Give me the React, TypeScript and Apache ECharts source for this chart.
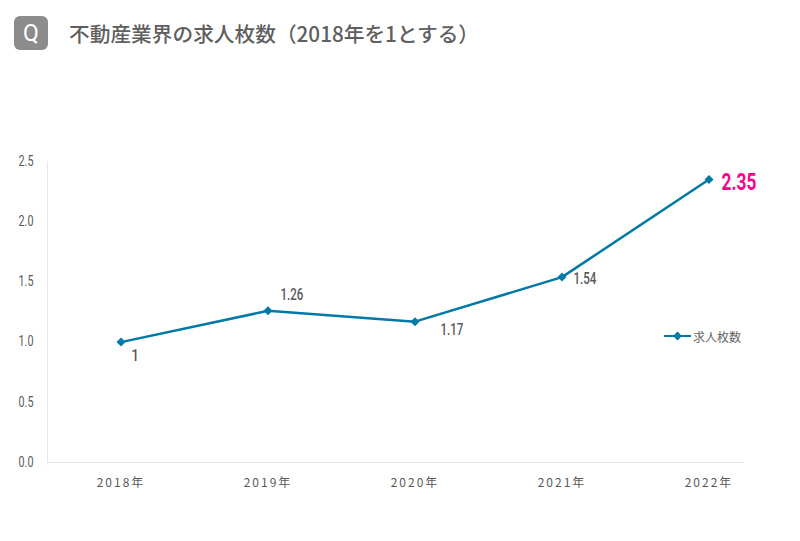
import React, { useEffect, useRef } from "react";
import * as echarts from "echarts";

const categories = ["2018年", "2019年", "2020年", "2021年", "2022年"];
const values = [1, 1.26, 1.17, 1.54, 2.35];
const yTicks = ["0.0", "0.5", "1.0", "1.5", "2.0", "2.5"];
const seriesName = "求人枚数";
const titleText = "不動産業界の求人枚数（2018年を1とする）";
const font = "'Noto Sans CJK JP', 'Noto Sans', sans-serif";
const numFont = "Roboto, sans-serif";
const blue = "#0079A8";
const gray = "#595959";
const labelOffsets: number[][] = [[14, 13], [24, -16], [37, 8], [23, 1], [30, 2]];

export default function App() {
  const ref = useRef<HTMLDivElement>(null);
  useEffect(() => {
    const chart = echarts.init(ref.current!, undefined, { renderer: "svg" });
    chart.setOption({
      animation: false,
      backgroundColor: "#fff",
      grid: { left: 47.5, right: 17.5, top: 161.5, bottom: 78.5, containLabel: false },
      xAxis: {
        type: "category",
        data: categories,
        axisLine: { show: false },
        axisTick: { show: false },
        axisLabel: { color: gray, fontFamily: font, fontSize: 12, margin: 13 },
      },
      yAxis: {
        type: "value",
        min: 0,
        max: 2.5,
        interval: 0.5,
        axisLine: { show: true, lineStyle: { color: "#E6E6E6", width: 1 } },
        axisTick: { show: false },
        splitLine: { show: false },
        axisLabel: {
          color: gray,
          fontFamily: numFont,
          fontSize: 15,
          margin: 14,
          formatter: (_v: number, i: number) => yTicks[i],
        },
      },
      legend: {
        left: 658,
        top: 325,
        itemWidth: 27,
        itemHeight: 11,
        itemGap: 0,
        data: [seriesName],
        textStyle: { color: "#666666", fontFamily: font, fontSize: 12, padding: [0, 0, 0, -3] },
      },
      series: [
        {
          name: seriesName,
          type: "line",
          data: values.map((v, i) => ({
            value: v,
            label: {
              show: true,
              position: "inside",
              offset: labelOffsets[i],
              formatter: String(v),
              color: i === 4 ? "#FF0090" : gray,
              fontFamily: numFont,
              fontSize: i === 4 ? 24 : 16,
              fontWeight: i === 4 ? 700 : 500,
            },
          })),
          symbol: "diamond",
          symbolSize: 9,
          lineStyle: { color: blue, width: 2.5 },
          itemStyle: { color: blue },
        },
      ],
      graphic: [
        { type: "line", shape: { x1: 47, y1: 462.5, x2: 744, y2: 462.5 }, style: { stroke: "#E6E6E6", lineWidth: 1 } },
        { type: "rect", shape: { x: 14, y: 16, width: 34, height: 34, r: 6 }, style: { fill: "#8C8C8C" } },
        { type: "text", x: 31, y: 33, style: { text: "Q", fill: "#fff", font: "400 23px Roboto, sans-serif", textAlign: "center", textVerticalAlign: "middle" } },
        { type: "text", x: 69, y: 33, style: { text: titleText, fill: "#5F5F5F", font: `500 20.7px ${font}`, textVerticalAlign: "middle" } },
      ],
    });
    // The reference uses letter-spaced x labels and a condensed numeral face, which zrender styles cannot express.
    const numbers = [...yTicks, ...values.map(String)];
    chart.getDom().querySelectorAll("text").forEach((t) => {
      const s = t.textContent || "";
      if (categories.includes(s)) t.setAttribute("letter-spacing", "2");
      else if (numbers.includes(s)) {
        const squeeze = s === "1" ? 0.85 : 0.72;
        t.setAttribute("textLength", String(t.getComputedTextLength() * squeeze));
        t.setAttribute("lengthAdjust", "spacingAndGlyphs");
        if (yTicks.includes(s)) t.setAttribute("dy", "-0.8");
      }
    });
    return () => chart.dispose();
  }, []);
  return <div ref={ref} style={{ width: 800, height: 541, position: "absolute", left: 0, top: 0 }} />;
}
